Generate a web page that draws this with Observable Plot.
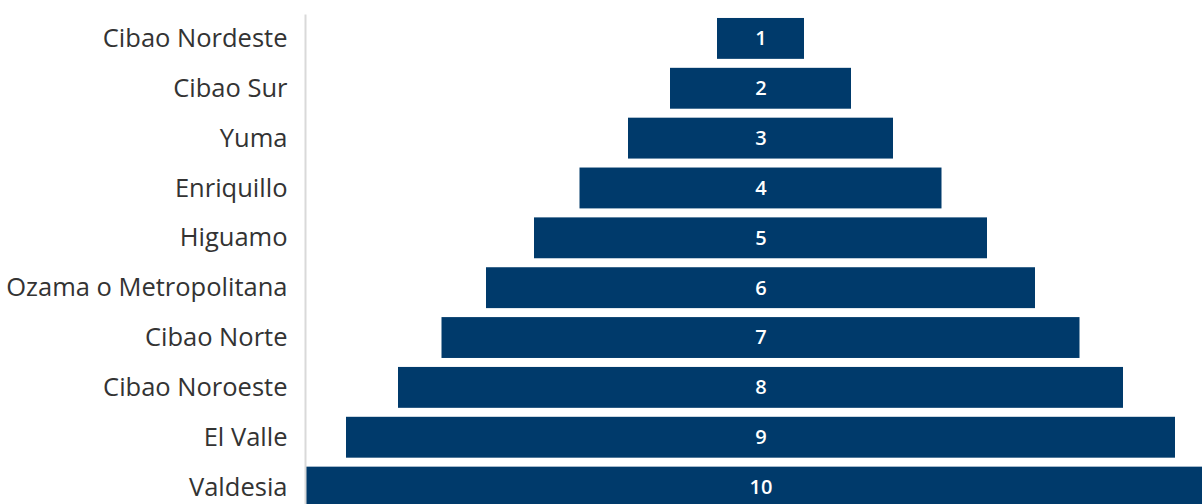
<!DOCTYPE html>
<html>
<head>
<meta charset="utf-8">
<script src="https://cdn.jsdelivr.net/npm/d3@7"></script>
<script src="https://cdn.jsdelivr.net/npm/@observablehq/plot@0.6"></script>
<style>
  html, body { margin: 0; padding: 0; background: #fff; overflow: hidden; }
  #chart svg { display: block; }
</style>
</head>
<body>
<div id="chart"></div>
<script>
const regions = ["Cibao Nordeste", "Cibao Sur", "Yuma", "Enriquillo", "Higuamo",
  "Ozama o Metropolitana", "Cibao Norte", "Cibao Noroeste", "El Valle", "Valdesia"];
const ranks = [1, 2, 3, 4, 5, 6, 7, 8, 9, 10];
const widths = [87, 181, 265, 362, 453, 549, 638, 725, 829, 909];

const data = regions.map((r, i) => ({region: r, rank: ranks[i], w: widths[i]}));

const chart = Plot.plot({
  width: 1202,
  height: 504,
  marginLeft: 305,
  marginRight: 0,
  marginTop: 15,
  marginBottom: 0,
  style: {fontFamily: "'Open Sans', sans-serif", background: "white"},
  x: {domain: [-455.5, 441.5], axis: null},
  y: {domain: regions, range: [9.0, 516.5], padding: 0.18, round: false, label: null},
  marks: [
    Plot.barX(data, {y: "region", x1: d => -d.w / 2, x2: d => d.w / 2, fill: "#003a6b"}),
    Plot.text(data, {y: "region", x: 0, text: d => String(d.rank), fill: "white", fontSize: 20, fontWeight: 600}),
    Plot.axisY({tickSize: 0, tickPadding: 18, fontSize: 25.5, color: "#333", label: null}),
    Plot.frame({anchor: "left", stroke: "#d9d9d9", strokeWidth: 2, strokeOpacity: 1})
  ]
});
document.getElementById("chart").appendChild(chart);
</script>
</body>
</html>
